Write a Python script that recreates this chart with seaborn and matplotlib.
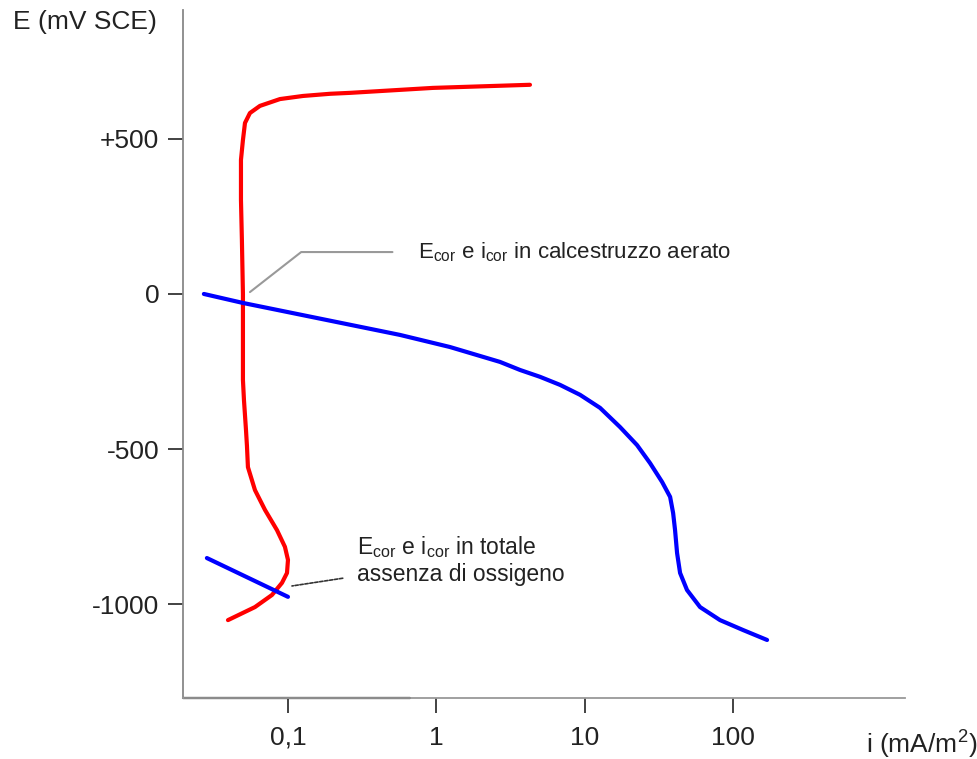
import numpy as np
import pandas as pd
import seaborn as sns
import matplotlib.pyplot as plt

sns.set_style("white")
plt.rcParams['font.family'] = ['Liberation Sans', 'DejaVu Sans']
plt.rcParams['mathtext.fontset'] = 'custom'
plt.rcParams['mathtext.rm'] = 'Liberation Sans'
plt.rcParams['mathtext.it'] = 'Liberation Sans'

# curva anodica (rossa): i in mA/m2, E in mV SCE
red_i = [0.0394, 0.0599, 0.078, 0.0911, 0.0985, 0.100, 0.0954, 0.0843, 0.0700,
         0.0599, 0.0537, 0.0529, 0.0521, 0.0505, 0.0497, 0.0497, 0.0489, 0.0482,
         0.0482, 0.0497, 0.0513, 0.0554, 0.0647, 0.0883, 0.1262, 0.192, 0.262,
         0.950, 4.28]
red_E = [-1051, -1009, -970, -931, -899, -857, -815, -761, -696,
         -632, -558, -490, -438, -342, -277, 0, 174, 303,
         432, 496, 551, 583, 606, 628, 638, 645, 648,
         664, 674]

# curva catodica (blu) in calcestruzzo aerato
blue_i = [0.0271, 0.0497, 0.569, 1.236, 2.688, 3.67, 5.00, 6.825, 9.31, 12.70,
          17.33, 22.56, 27.6, 33.3, 37.7, 39.5, 40.7, 42.0, 44.0, 49.0, 60.0,
          81.8, 117, 169.8]
blue_E = [0, -29, -132, -171, -219, -245, -267, -293, -325, -367,
          -429, -487, -545, -606, -654, -706, -761, -835, -899, -954, -1009,
          -1051, -1083, -1115]

# curva catodica in assenza di ossigeno
blue2_i = [0.0284, 0.100]
blue2_E = [-851, -976]

xticks = [0.1, 1, 10, 100]
xticklabels = ['0,1', '1', '10', '100']
yticks = [500, 0, -500, -1000]
yticklabels = ['+500', '0', '-500', '-1000']

fig = plt.figure(figsize=(9.77, 7.59), dpi=100)
ax = fig.add_axes([183/977, 61/759, 722/977, 688/759])

sns.lineplot(x=red_i, y=red_E, sort=False, estimator=None, color='#ff0000',
             lw=3, ax=ax)
sns.lineplot(x=blue_i, y=blue_E, sort=False, estimator=None, color='#0000ff',
             lw=3, ax=ax)
sns.lineplot(x=blue2_i, y=blue2_E, sort=False, estimator=None, color='#0000ff',
             lw=3, ax=ax)

ax.set_xscale('log')
ax.set_xlim(0.0196, 1445)
ax.set_ylim(-1302, 915)
ax.set_xticks(xticks)
ax.set_xticklabels(xticklabels)
ax.minorticks_off()
ax.set_yticks(yticks)
ax.set_yticklabels(yticklabels)
ax.tick_params(axis='both', labelsize=19, labelcolor='#222222', color='#222222',
               direction='out', length=11, width=1.2, bottom=True, left=True)
ax.tick_params(axis='x', pad=9)
ax.tick_params(axis='y', pad=6)

for s in ['top', 'right']:
    ax.spines[s].set_visible(False)
ax.spines['left'].set_color('#888888')
ax.spines['left'].set_linewidth(1.3)
ax.spines['bottom'].set_color('#999999')
ax.spines['bottom'].set_linewidth(1.3)
ax.axhline(-1302, xmin=0, xmax=(410-183)/722, color='#111111', lw=1.6,
           clip_on=False)

ax.set_xlabel('i (mA/m$^2$)', fontsize=19, color='#222222', va='center')
ax.xaxis.set_label_coords(1.023, -0.068)
ax.set_ylabel('E (mV SCE)', fontsize=19, color='#222222', rotation=0,
              va='center')
ax.yaxis.set_label_coords(-0.136, 0.983)

ax.annotate(r'E$_{\mathrm{cor}}$ e i$_{\mathrm{cor}}$ in calcestruzzo aerato',
            xy=(0.0554, 6), xytext=(0.752, 135), fontsize=16,
            color='#222222', ha='left', va='center',
            arrowprops=dict(arrowstyle='-', color='#999999', lw=1.5,
                            shrinkA=16, shrinkB=0,
                            connectionstyle='angle,angleA=0,angleB=38,rad=0'))

ax.annotate('E$_{\\mathrm{cor}}$ e i$_{\\mathrm{cor}}$ in totale\nassenza di ossigeno',
            xy=(0.1064, -941), xytext=(0.292, -858), fontsize=16.5,
            color='#222222', ha='left', va='center', linespacing=1.15,
            arrowprops=dict(arrowstyle='-', color='#333333', lw=1.2,
                            linestyle=(0, (2, 1)), shrinkA=8, shrinkB=0))

fig.savefig('out.png', dpi=100)
